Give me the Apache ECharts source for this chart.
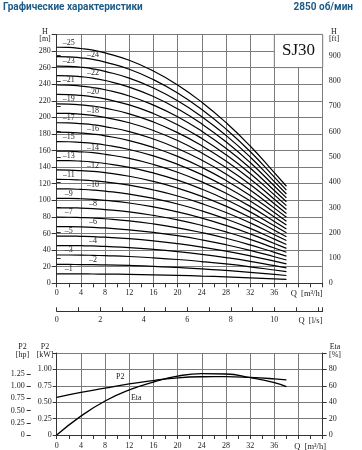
<!DOCTYPE html>
<html><head><meta charset="utf-8">
<script src="https://cdn.jsdelivr.net/npm/echarts@6/dist/echarts.min.js"></script>
<style>html,body{margin:0;padding:0;background:#fff}#c{width:362px;height:450px}</style>
</head><body><div id="c"></div>
<script>
// ---- data ----
const flowM3h = [0, 2, 4, 6, 8, 12, 16, 20, 24, 28, 32, 36, 38];
const stages = [1,2,3,4,5,6,7,8,9,10,11,12,13,14,15,16,17,18,19,20,21,22,23,24,25];
const headByStage = [
  [11.4, 11.4, 11.3, 11.2, 11.1, 10.8, 10.2, 9.6, 8.7, 7.8, 6.6, 5.3, 4.7],
  [22.8, 22.7, 22.6, 22.5, 22.2, 21.5, 20.5, 19.1, 17.5, 15.5, 13.2, 10.7, 9.4],
  [34.1, 34.1, 34.0, 33.7, 33.3, 32.3, 30.7, 28.7, 26.2, 23.3, 19.9, 16.0, 14.0],
  [45.5, 45.5, 45.3, 45.0, 44.4, 43.0, 40.9, 38.2, 34.9, 31.0, 26.5, 21.3, 18.7],
  [56.9, 56.9, 56.6, 56.2, 55.6, 53.8, 51.2, 47.8, 43.7, 38.8, 33.1, 26.7, 23.4],
  [68.3, 68.2, 67.9, 67.4, 66.7, 64.5, 61.4, 57.4, 52.4, 46.5, 39.7, 32.0, 28.1],
  [79.7, 79.6, 79.2, 78.7, 77.8, 75.3, 71.6, 66.9, 61.1, 54.3, 46.3, 37.3, 32.8],
  [91.0, 91.0, 90.6, 89.9, 88.9, 86.0, 81.8, 76.5, 69.8, 62.0, 53.0, 42.6, 37.4],
  [102.4, 102.3, 101.9, 101.2, 100.0, 96.8, 92.1, 86.0, 78.6, 69.8, 59.6, 48.0, 42.1],
  [113.8, 113.7, 113.2, 112.4, 111.1, 107.5, 102.3, 95.6, 87.3, 77.5, 66.2, 53.3, 46.8],
  [125.2, 125.1, 124.5, 123.6, 122.2, 118.3, 112.5, 105.2, 96.0, 85.3, 72.8, 58.6, 51.5],
  [136.6, 136.4, 135.8, 134.9, 133.3, 129.0, 122.8, 114.7, 104.8, 93.0, 79.4, 64.0, 56.2],
  [147.9, 147.8, 147.2, 146.1, 144.4, 139.8, 133.0, 124.3, 113.5, 100.8, 86.1, 69.3, 60.8],
  [159.3, 159.2, 158.5, 157.4, 155.5, 150.5, 143.2, 133.8, 122.2, 108.5, 92.7, 74.6, 65.5],
  [170.7, 170.6, 169.8, 168.6, 166.7, 161.3, 153.5, 143.4, 131.0, 116.3, 99.3, 80.0, 70.2],
  [182.1, 181.9, 181.1, 179.8, 177.8, 172.0, 163.7, 153.0, 139.7, 124.0, 105.9, 85.3, 74.9],
  [193.5, 193.3, 192.4, 191.1, 188.9, 182.8, 173.9, 162.5, 148.4, 131.8, 112.5, 90.6, 79.6],
  [204.8, 204.7, 203.8, 202.3, 200.0, 193.5, 184.1, 172.1, 157.1, 139.5, 119.2, 95.9, 84.2],
  [216.2, 216.0, 215.1, 213.6, 211.1, 204.3, 194.4, 181.6, 165.9, 147.3, 125.8, 101.3, 88.9],
  [227.6, 227.4, 226.4, 224.8, 222.2, 215.0, 204.6, 191.2, 174.6, 155.0, 132.4, 106.6, 93.6],
  [239.0, 238.8, 237.7, 236.0, 233.3, 225.8, 214.8, 200.8, 183.3, 162.8, 139.0, 111.9, 98.3],
  [250.4, 250.1, 249.0, 247.3, 244.4, 236.5, 225.1, 210.3, 192.1, 170.5, 145.6, 117.3, 103.0],
  [261.7, 261.5, 260.4, 258.5, 255.5, 247.3, 235.3, 219.9, 200.8, 178.3, 152.3, 122.6, 107.6],
  [273.1, 272.9, 271.7, 269.8, 266.6, 258.0, 245.5, 229.4, 209.5, 186.0, 158.9, 127.9, 112.3],
  [284.5, 284.3, 283.0, 281.0, 277.8, 268.8, 255.8, 239.0, 218.3, 193.8, 165.5, 133.3, 117.0]
];
const powerFlow = [0, 4, 8, 12, 16, 20, 24, 28, 32, 36, 38];
const p2kW = [0.575, 0.65, 0.715, 0.78, 0.83, 0.872, 0.888, 0.89, 0.878, 0.856, 0.84];
const effFlow = [0, 4, 8, 12, 16, 20, 24, 28, 32, 36, 38];
const etaPct = [0, 23, 41.5, 55, 64.5, 71.8, 74.9, 74.4, 70, 64, 59];
const qTicksM3h = [0, 4, 8, 12, 16, 20, 24, 28, 32, 36];
const qTicksLs = [0, 2, 4, 6, 8, 10];
const hTicksM = [0, 20, 40, 60, 80, 100, 120, 140, 160, 180, 200, 220, 240, 260, 280];
const hTicksFt = [0, 100, 200, 300, 400, 500, 600, 700, 800, 900];
const p2TicksKW = [0, 0.25, 0.5, 0.75, 1.0];
const p2TicksHp = [0, 0.25, 0.5, 0.75, 1.0, 1.25];
const etaTicks = [0, 20, 40, 60, 80];
const modelName = 'SJ30';

// ---- helpers ----
const SERIF = '"Liberation Serif", "DejaVu Serif", serif';
const TXT = '#222';
const GRIDC = '#7a7a7a';
const HMAX = 300, QMAX = 44;
const lblStyle = {fontFamily: SERIF, fontSize: 8, color: TXT};
const inList = (list) => (v) => list.some(t => Math.abs(t - v) < 1e-6) ? String(v) : '';
const fmt2 = (list) => (v) => list.some(t => Math.abs(t - v) < 1e-6) ? (v === 0 ? '0' : v.toFixed(2)) : '';

const chart = echarts.init(document.getElementById('c'), null, {renderer: 'canvas'});

const curveSeries = stages.map((n, i) => ({
  type: 'line',
  xAxisIndex: 0, yAxisIndex: 0,
  smooth: true,
  symbol: 'circle', symbolSize: 0, showSymbol: true,
  silent: true,
  lineStyle: {color: '#000', width: 1.2},
  itemStyle: {color: '#000'},
  data: flowM3h.map((q, j) => {
    const item = {value: [q, headByStage[i][j]]};
    if ((n % 2 === 1 && q === 2) || (n % 2 === 0 && q === 6)) {
      item.label = {show: true, position: 'top', distance: 1, formatter: '\u2013' + n,
        fontFamily: SERIF, fontSize: 8, color: TXT};
    }
    return item;
  }),
  markArea: n === 25 ? {
    silent: true,
    itemStyle: {color: '#fff', borderColor: GRIDC, borderWidth: 1},
    label: {show: true, position: 'inside', formatter: modelName, fontFamily: SERIF, fontSize: 17, color: '#111'},
    data: [[{coord: [36, 260]}, {coord: [44, 300]}]]
  } : undefined
}));

const option = {
  animation: false,
  backgroundColor: '#fff',
  grid: [
    {left: 56.7, top: 34.4, width: 266, height: 248.9},
    {left: 56.7, top: 353, width: 266, height: 83}
  ],
  xAxis: [
    {gridIndex: 0, type: 'value', min: 0, max: QMAX, interval: 4,
      axisLine: {lineStyle: {color: '#333', width: 1}},
      axisTick: {show: true, length: 4, lineStyle: {color: '#333'}},
      minorTick: {show: true, splitNumber: 2, length: 4, lineStyle: {color: '#333'}},
      axisLabel: {...lblStyle, margin: 6, formatter: inList(qTicksM3h)},
      splitLine: {show: true, lineStyle: {color: GRIDC, width: 1}}},
    {gridIndex: 0, type: 'value', position: 'bottom', offset: 28, min: 0, max: QMAX / 3.6, interval: 2,
      axisLine: {show: true, onZero: false, lineStyle: {color: '#333', width: 1}},
      axisTick: {show: true, inside: true, length: 4, lineStyle: {color: '#333'}},
      minorTick: {show: true, splitNumber: 2, length: 4, lineStyle: {color: '#333'}},
      axisLabel: {...lblStyle, margin: 5, formatter: inList(qTicksLs)},
      splitLine: {show: false}},
    {gridIndex: 1, type: 'value', min: 0, max: QMAX, interval: 4,
      axisLine: {lineStyle: {color: '#333', width: 1}},
      axisTick: {show: true, length: 4, lineStyle: {color: '#333'}},
      minorTick: {show: true, splitNumber: 2, length: 4, lineStyle: {color: '#333'}},
      axisLabel: {...lblStyle, margin: 7, formatter: inList(qTicksM3h)},
      splitLine: {show: true, lineStyle: {color: GRIDC, width: 1}}}
  ],
  yAxis: [
    {gridIndex: 0, type: 'value', min: 0, max: HMAX, interval: 20, position: 'left',
      axisLine: {show: true, lineStyle: {color: '#333'}},
      axisTick: {show: true, length: 5, lineStyle: {color: '#333'}},
      axisLabel: {...lblStyle, margin: 6, formatter: inList(hTicksM)},
      splitLine: {show: true, lineStyle: {color: GRIDC, width: 1}}},
    {gridIndex: 0, type: 'value', min: 0, max: HMAX * 3.28084, position: 'right',
      axisLine: {show: true, lineStyle: {color: '#333'}},
      axisTick: {show: true, length: 4, customValues: hTicksFt, lineStyle: {color: '#333'}},
      axisLabel: {...lblStyle, margin: 6, customValues: hTicksFt},
      splitLine: {show: false}},
    {gridIndex: 1, type: 'value', min: 0, max: 1.25, interval: 0.25, position: 'left',
      axisLine: {show: true, lineStyle: {color: '#333'}},
      axisTick: {show: true, length: 4, lineStyle: {color: '#333'}},
      axisLabel: {...lblStyle, margin: 5, formatter: fmt2(p2TicksKW)},
      splitLine: {show: true, lineStyle: {color: GRIDC, width: 1}}},
    {gridIndex: 1, type: 'value', min: 0, max: 1.25 / 0.7457, position: 'left', offset: 26,
      axisLine: {show: false},
      axisTick: {show: true, length: 4, customValues: p2TicksHp, lineStyle: {color: '#333'}},
      axisLabel: {...lblStyle, margin: 6, customValues: p2TicksHp, formatter: (v) => v === 0 ? '0' : v.toFixed(2)},
      splitLine: {show: false}},
    {gridIndex: 1, type: 'value', min: 0, max: 100, interval: 20, position: 'right',
      axisLine: {show: true, lineStyle: {color: '#333'}},
      axisTick: {show: true, length: 4, lineStyle: {color: '#333'}},
      axisLabel: {...lblStyle, margin: 6, formatter: inList(etaTicks)},
      splitLine: {show: false}}
  ],
  series: curveSeries.concat([
    {type: 'line', name: 'P2', xAxisIndex: 2, yAxisIndex: 2, smooth: true,
      symbol: 'circle', symbolSize: 0, showSymbol: true, silent: true,
      lineStyle: {color: '#000', width: 1.3}, itemStyle: {color: '#000'},
      data: powerFlow.map((q, j) => q === 12
        ? {value: [q, p2kW[j]], label: {show: true, position: 'top', distance: 3, offset: [-9, 0], formatter: 'P2', ...lblStyle}}
        : {value: [q, p2kW[j]]})},
    {type: 'line', name: 'Eta', xAxisIndex: 2, yAxisIndex: 4, smooth: true,
      symbol: 'circle', symbolSize: 0, showSymbol: true, silent: true,
      lineStyle: {color: '#000', width: 1.3}, itemStyle: {color: '#000'},
      data: effFlow.map((q, j) => q === 12
        ? {value: [q, etaPct[j]], label: {show: true, position: 'bottom', distance: 4, offset: [7, 0], formatter: 'Eta', ...lblStyle}}
        : {value: [q, etaPct[j]]})}
  ]),
  graphic: [
    {type: 'text', x: 3, y: 7, style: {text: 'Графические характеристики', font: 'bold 10px Roboto', fill: '#1c5b87', align: 'left', verticalAlign: 'middle', textAlign: 'left', textVerticalAlign: 'middle'}},
    {type: 'text', x: 353, y: 7, style: {text: '2850 об/мин', font: 'bold 10px Roboto', fill: '#1c5b87', align: 'right', verticalAlign: 'middle', textAlign: 'right', textVerticalAlign: 'middle'}},
    {type: 'text', x: 45, y: 35.5, style: {text: 'H\n[m]', font: '8px ' + SERIF, lineHeight: 7.5, fill: TXT, align: 'center', verticalAlign: 'middle', textAlign: 'center', textVerticalAlign: 'middle'}},
    {type: 'text', x: 334, y: 35.5, style: {text: 'H\n[ft]', font: '8px ' + SERIF, lineHeight: 7.5, fill: TXT, align: 'center', verticalAlign: 'middle', textAlign: 'center', textVerticalAlign: 'middle'}},
    {type: 'text', x: 322.5, y: 293.5, style: {text: 'Q  [m\u00b3/h]', font: '8.5px ' + SERIF, fill: TXT, align: 'right', verticalAlign: 'middle', textAlign: 'right', textVerticalAlign: 'middle'}},
    {type: 'text', x: 322.5, y: 321, style: {text: 'Q  [l/s]', font: '8.5px ' + SERIF, fill: TXT, align: 'right', verticalAlign: 'middle', textAlign: 'right', textVerticalAlign: 'middle'}},
    {type: 'text', x: 22.5, y: 351, style: {text: 'P2\n[hp]', font: '8px ' + SERIF, lineHeight: 8, fill: TXT, align: 'center', verticalAlign: 'middle', textAlign: 'center', textVerticalAlign: 'middle'}},
    {type: 'text', x: 45, y: 351, style: {text: 'P2\n[kW]', font: '8px ' + SERIF, lineHeight: 8, fill: TXT, align: 'center', verticalAlign: 'middle', textAlign: 'center', textVerticalAlign: 'middle'}},
    {type: 'text', x: 335, y: 351, style: {text: 'Eta\n[%]', font: '8px ' + SERIF, lineHeight: 8, fill: TXT, align: 'center', verticalAlign: 'middle', textAlign: 'center', textVerticalAlign: 'middle'}},
    {type: 'text', x: 326, y: 446.5, style: {text: 'Q  [m\u00b3/h]', font: '8.5px ' + SERIF, fill: TXT, align: 'right', verticalAlign: 'middle', textAlign: 'right', textVerticalAlign: 'middle'}}
  ]
};
chart.setOption(option);
</script>
</body></html>
